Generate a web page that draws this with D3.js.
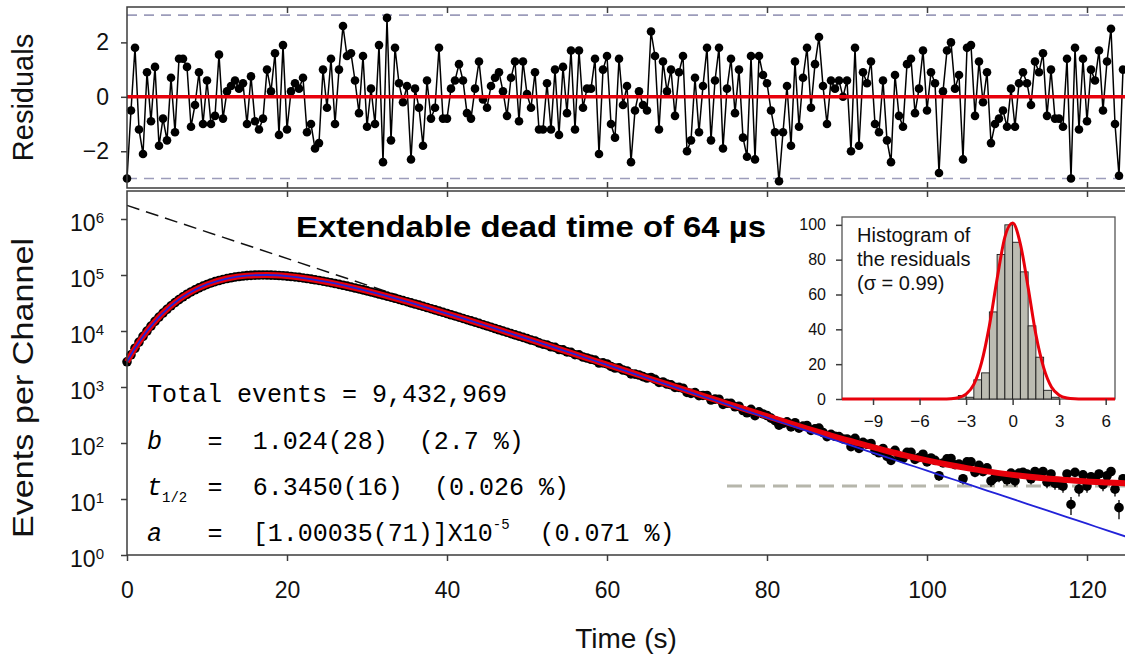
<!DOCTYPE html>
<meta charset='utf-8'>
<style>
	body { margin: 0; background: #fff; }
	svg { display: block; font-family: 'Liberation Sans', Arial, sans-serif; }
	.frame { stroke: #3c3c3c; stroke-width: 1.5; fill: none; }
	.axis line { stroke: #3c3c3c; stroke-width: 1.5; }
	.axis path { display: none; }
	.mono { font-family: 'Liberation Mono', 'Courier New', monospace; white-space: pre; }
</style>
<body>
	<div id='container'></div>
<script src='https://d3js.org/d3.v7.min.js'></script>
<script>
	// one plotted channel every half second
	const channelWidth = 0.5;

	const residuals = [
		-3.0, -0.5, 1.8, -1.2, -2.1, 0.9, -0.9, 1.1, -1.8, -0.8,
		-1.6, 0.7, -1.3, 1.4, 1.4, 1.1, -1.1, -0.3, 0.9, -1.0,
		0.6, -1.0, -0.7, 1.55, -0.8, 0.2, 0.4, 0.6, 0.3, 0.5,
		-1.0, 0.75, -0.9, -1.2, -0.8, 1.0, 0.2, 1.6, -1.4, 1.9,
		-1.2, 0.2, 0.5, 0.3, 0.7, -1.3, -1.0, -1.9, -1.7, 1.0,
		-0.4, 1.4, -1.0, 1.0, 2.6, 1.5, 1.6, 0.6, -0.6, 1.5,
		-1.1, 0.3, -1.0, 1.9, -2.4, 2.9, -1.6, 1.8, 0.5, -0.2,
		0.4, -2.3, 0.3, -0.4, -1.8, 0.6, -0.8, -0.4, 1.8, -0.8,
		-0.8, 0.3, 0.6, 1.2, 0.6, -0.6, -0.8, 0.3, 1.3, -0.1,
		-0.4, 0.4, 0.7, 0.9, 0.2, -0.7, 0.7, 1.3, -0.9, 1.3,
		0.1, -0.4, 0.9, -1.2, -1.2, 0.5, -1.2, 1.0, -1.4, 1.1,
		-0.6, 1.7, -1.2, 1.7, -0.4, 0.3, 0.3, 1.4, -2.1, 1.0,
		1.5, -1.0, -1.5, 1.4, -0.3, 0.4, -2.4, -0.5, 0.2, -0.3,
		-0.5, 2.4, 1.5, -1.2, 1.3, 0.2, 1.0, -0.7, 0.9, 1.5,
		-2.0, -1.6, 0.7, -1.3, 0.4, 1.8, -1.6, 0.6, 1.8, -1.9,
		0.3, 1.4, -0.6, 1.0, -1.5, -2.2, 1.5, -2.3, 1.5, 0.8,
		0.5, -0.5, -1.3, -3.1, -1.3, 0.4, -1.8, 1.3, -1.1, 0.7,
		1.8, -0.4, 1.2, 2.2, 0.4, -1.0, 0.6, 0.3, 0.6, 0.0,
		0.6, -2.0, 1.8, -1.8, 0.9, 0.5, 1.3, -1.0, -1.3, 0.6,
		-1.6, -2.4, 0.8, -0.7, -1.1, 1.2, 1.4, -0.6, 0.3, 1.7,
		-0.5, 0.9, 0.5, -2.8, 0.2, 1.7, 2.0, 0.3, 0.8, -2.3,
		1.8, 1.9, -0.7, 1.3, -0.2, 0.9, -1.7, -1.0, -0.8, -0.5,
		-1.1, 0.3, -1.1, 0.5, 0.9, 0.5, -0.3, 1.3, 0.9, 1.6,
		-0.7, 1.0, -0.8, -0.8, -1.1, 1.4, -3.0, 1.8, -1.2, 1.4,
		-0.9, 1.0, 0.6, 1.7, -0.5, 1.3, 2.5, -1.0, -2.9, 1.0
	];

	const counts = [
		2820, 3760, 4920, 6330, 8010, 9970, 12250, 14840, 17720, 20930,
		24430, 28200, 32190, 36390, 40740, 45290, 49830, 54430, 58960, 63530,
		67860, 72080, 76050, 79790, 83260, 86460, 89320, 91850, 94060, 95870,
		97480, 98590, 99440, 99970, 100170, 100000, 99600, 98960, 98030, 96910,
		95580, 94050, 92340, 90520, 88570, 86530, 84370, 82130, 79850, 77490,
		75160, 72780, 70390, 68000, 65620, 63260, 60940, 58630, 56370, 54160,
		51990, 49860, 47790, 45790, 43840, 41940, 40110, 38340, 36630, 34970,
		33370, 31840, 30360, 28950, 27590, 26280, 25020, 23820, 22670, 21570,
		20530, 19520, 18550, 17650, 16760, 15930, 15140, 14380, 13660, 12970,
		12310, 11690, 11090, 10530, 9990, 9480, 8990, 8530, 8090, 7680,
		7304, 6886, 6635, 6129, 5808, 5632, 5217, 5100, 4670, 4595,
		4246, 4169, 3777, 3753, 3435, 3295, 3124, 3020, 2679, 2695,
		2582, 2327, 2181, 2199, 2008, 1934, 1713, 1699, 1638, 1533,
		1445, 1479, 1371, 1205, 1228, 1128, 1096, 985, 983, 950,
		799, 770, 793, 699, 707, 706, 585, 608, 606, 490,
		513, 511, 443, 453, 380, 346, 399, 308, 360, 330,
		310, 278, 250, 208, 225, 239, 194, 230, 184, 201,
		205, 168, 179, 185, 154, 130, 143, 132, 130, 118,
		118, 86, 121, 80, 103, 95, 98, 73, 67, 80,
		58, 49, 74, 58, 53, 68, 68, 51, 55, 63,
		46, 54, 49, 26, 44, 52, 53, 41, 42, 23,
		46, 46, 30, 40, 31, 36, 21, 24, 25, 26,
		22, 29, 21, 29, 30, 28, 23, 31, 28, 31,
		20, 28, 19, 19, 17, 28, 8, 30, 15, 27,
		17, 25, 23, 28, 18, 26, 31, 15, 7, 23
	];

	// fitted curve (red) and the same without background (blue)
	const fitTimes = [0, 1, 2, 3, 4, 5, 6, 7, 8, 9, 10, 12.5, 15, 17.5, 20, 22.5, 25, 27.5, 30, 32.5,
		35, 37.5, 40, 42.5, 45, 47.5, 50, 52.5, 55, 57.5, 60, 62.5, 65, 67.5, 70, 72.5, 75, 77.5, 80,
		82.5, 85, 87.5, 90, 92.5, 95, 97.5, 100, 102.5, 105, 107.5, 110, 112.5, 115, 117.5, 120, 122.5, 125];
	const fitCounts = [2820, 4920, 8010, 12250, 17720, 24430, 32190, 40740, 49830, 58960, 67860,
		86460, 97480, 100000, 95580, 86530, 75160, 63260, 51990, 41940, 33370, 26280, 20530, 15930,
		12310, 9480, 7295, 5595, 4285, 3278, 2507, 1916, 1464, 1121, 858, 660, 506, 389, 301, 233,
		181, 142, 112, 90, 72, 59, 49, 41.4, 35.6, 31.1, 27.8, 25.2, 23.2, 21.8, 20.6, 19.8, 19.1];
	const decayCounts = [2800, 4900, 7990, 12230, 17700, 24410, 32170, 40720, 49810, 58940, 67840,
		86440, 97460, 99980, 95560, 86510, 75140, 63240, 51970, 41920, 33350, 26260, 20510, 15910,
		12290, 9460, 7278, 5578, 4268, 3261, 2490, 1899, 1447, 1104, 841, 643, 489, 372, 284, 216,
		164, 125, 95.4, 72.6, 55.3, 42.1, 32.1, 24.4, 18.6, 14.1, 10.8, 8.2, 6.24, 4.75, 3.62, 2.75, 2.10];

	// undisturbed decay, extrapolated to t = 0
	const asymptoteTimes = [0, 34];
	const asymptoteCounts = [1.75e6, 42700];

	const backgroundLevel = 17;
	const backgroundSpan = [75, 125];
	const residualLimits = [-3, 3];

	// histogram of residuals
	const binStarts = [-3.5, -3, -2.5, -2, -1.5, -1, -0.5, 0, 0.5, 1, 1.5, 2, 2.5];
	const binWidth = 0.5;
	const binCounts = [2, 1, 11, 15, 50, 83, 100, 90, 73, 42, 24, 5, 1];
	const gaussX = [-11, -4.5, -4, -3.5, -3, -2.5, -2, -1.5, -1, -0.5, 0, 0.5, 1, 1.5, 2, 2.5, 3, 3.5, 4, 4.5, 6.6];
	const gaussY = [0, 0, 0.16, 0.74, 2.8, 8.4, 21, 42, 69, 93, 101, 89, 64, 37, 18, 6.9, 2.2, 0.55, 0.1, 0, 0];
	const histNote = ['Histogram of', 'the residuals', '(σ = 0.99)'];

	const timeTicks = [0, 20, 40, 60, 80, 100, 120];
	const residualTicks = [-2, 0, 2];
	const decadeTicks = [0, 1, 2, 3, 4, 5, 6];
	const histXTicks = [-9, -6, -3, 0, 3, 6];
	const histYTicks = [0, 20, 40, 60, 80, 100];

	const title = 'Extendable dead time of 64 µs';
	const totalLine = 'Total events = 9,432,969';
	const fitParams = [
		{ name: 'b', sub: '', value: '1.024(28)', sup: '', rel: '(2.7 %)' },
		{ name: 't', sub: '1/2', value: '6.3450(16)', sup: '', rel: '(0.026 %)' },
		{ name: 'a', sub: '', value: '[1.00035(71)]X10', sup: '-5', rel: '(0.071 %)' },
	];

	const W = 1125, H = 660;
	const plotLeft = 127, plotRight = 1127,
		resTop = 7, resBottom = 188,
		mainTop = 191, mainBottom = 555;

	const svg = d3.select( '#container' )
		.append( 'svg' )
		.attr( 'width', W )
		.attr( 'height', H );

	const x = d3.scaleLinear().domain( [0, 125] ).range( [plotLeft, plotRight] );
	const yRes = d3.scaleLinear().domain( [-3.35, 3.3] ).range( [resBottom, resTop] );
	const yMain = d3.scaleLog().domain( [1, Math.pow( 10, 6.5 )] ).range( [mainBottom, mainTop] );

	const channelTimes = residuals.map( ( r, i ) => i * channelWidth );

	// ---------- residual panel ----------
	const res = svg.append( 'g' );

	res.selectAll( '.limit' )
		.data( residualLimits )
		.enter().append( 'line' )
			.attr( 'x1', plotLeft ).attr( 'x2', W )
			.attr( 'y1', d => yRes( d ) ).attr( 'y2', d => yRes( d ) )
			.attr( 'stroke', '#9c9cba' )
			.attr( 'stroke-width', 1.6 )
			.attr( 'stroke-dasharray', '10,7' );

	res.append( 'path' )
		.datum( residuals )
		.attr( 'fill', 'none' )
		.attr( 'stroke', '#000' )
		.attr( 'stroke-width', 1.5 )
		.attr( 'd', d3.line().x( ( d, i ) => x( channelTimes[i] ) ).y( d => yRes( d ) ) );

	res.selectAll( 'circle' )
		.data( residuals )
		.enter().append( 'circle' )
			.attr( 'cx', ( d, i ) => x( channelTimes[i] ) )
			.attr( 'cy', d => yRes( d ) )
			.attr( 'r', 4.3 )
			.attr( 'fill', '#000' );

	res.append( 'line' )
		.attr( 'x1', plotLeft ).attr( 'x2', W )
		.attr( 'y1', yRes( 0 ) ).attr( 'y2', yRes( 0 ) )
		.attr( 'stroke', '#e8000b' )
		.attr( 'stroke-width', 3.5 );

	res.append( 'path' )
		.attr( 'class', 'frame' )
		.attr( 'd', `M${W},${resTop}H${plotLeft}V${resBottom}H${W}` );

	res.append( 'g' )
		.attr( 'class', 'axis' )
		.attr( 'transform', `translate( ${plotLeft}, 0 )` )
		.call( d3.axisLeft( yRes ).tickValues( residualTicks ).tickSize( 6 ).tickPadding( 12 ).tickFormat( d3.format( 'd' ) ) )
		.selectAll( 'text' )
			.attr( 'font-size', 23 ).attr( 'fill', '#111' )
			.attr( 'font-family', 'Liberation Sans, Arial, sans-serif' );

	res.append( 'g' )
		.attr( 'class', 'axis' )
		.attr( 'transform', `translate( 0, ${resTop} )` )
		.call( d3.axisTop( x ).tickValues( timeTicks.slice( 1 ) ).tickSize( -6 ).tickFormat( '' ) );

	res.append( 'g' )
		.attr( 'class', 'axis' )
		.attr( 'transform', `translate( 0, ${resBottom} )` )
		.call( d3.axisBottom( x ).tickValues( timeTicks.slice( 1 ) ).tickSize( -6 ).tickFormat( '' ) );

	svg.append( 'text' )
		.attr( 'transform', `translate( 33, ${( resTop + resBottom ) / 2} ) rotate( -90 )` )
		.attr( 'text-anchor', 'middle' )
		.attr( 'font-size', 29 )
		.attr( 'fill', '#111' )
		.text( 'Residuals' );

	// ---------- main panel ----------
	const main = svg.append( 'g' );

	main.append( 'line' )
		.attr( 'x1', x( backgroundSpan[0] ) ).attr( 'x2', x( backgroundSpan[1] ) )
		.attr( 'y1', yMain( backgroundLevel ) ).attr( 'y2', yMain( backgroundLevel ) )
		.attr( 'stroke', '#b6b6ab' )
		.attr( 'stroke-width', 3 )
		.attr( 'stroke-dasharray', '15,8' );

	main.append( 'path' )
		.datum( asymptoteTimes )
		.attr( 'fill', 'none' )
		.attr( 'stroke', '#111' )
		.attr( 'stroke-width', 1.5 )
		.attr( 'stroke-dasharray', '13,7' )
		.attr( 'd', d3.line().x( d => x( d ) ).y( ( d, i ) => yMain( asymptoteCounts[i] ) ) );

	main.selectAll( '.err' )
		.data( counts )
		.enter().append( 'line' )
			.attr( 'x1', ( d, i ) => x( channelTimes[i] ) )
			.attr( 'x2', ( d, i ) => x( channelTimes[i] ) )
			.attr( 'y1', d => yMain( Math.max( 1, d - Math.sqrt( d ) ) ) )
			.attr( 'y2', d => yMain( d + Math.sqrt( d ) ) )
			.attr( 'stroke', '#000' )
			.attr( 'stroke-width', 1.3 );

	main.selectAll( '.pt' )
		.data( counts )
		.enter().append( 'circle' )
			.attr( 'cx', ( d, i ) => x( channelTimes[i] ) )
			.attr( 'cy', d => yMain( d ) )
			.attr( 'r', 4.8 )
			.attr( 'fill', '#000' );

	main.append( 'path' )
		.datum( fitCounts )
		.attr( 'fill', 'none' )
		.attr( 'stroke', '#e8000b' )
		.attr( 'stroke-width', 6 )
		.attr( 'd', d3.line().curve( d3.curveMonotoneX ).x( ( d, i ) => x( fitTimes[i] ) ).y( d => yMain( d ) ) );

	main.append( 'path' )
		.datum( decayCounts )
		.attr( 'fill', 'none' )
		.attr( 'stroke', '#2222d8' )
		.attr( 'stroke-width', 1.8 )
		.attr( 'd', d3.line().curve( d3.curveMonotoneX ).x( ( d, i ) => x( fitTimes[i] ) ).y( d => yMain( d ) ) );

	main.append( 'path' )
		.attr( 'class', 'frame' )
		.attr( 'd', `M${W},${mainTop}H${plotLeft}V${mainBottom}H${W}` )
		.attr( 'stroke-width', 1.8 );

	main.append( 'g' )
		.attr( 'class', 'axis' )
		.attr( 'transform', `translate( 0, ${mainTop} )` )
		.call( d3.axisTop( x ).tickValues( timeTicks.slice( 1 ) ).tickSize( -6 ).tickFormat( '' ) );

	main.append( 'g' )
		.attr( 'class', 'axis' )
		.attr( 'transform', `translate( 0, ${mainBottom} )` )
		.call( d3.axisBottom( x ).tickValues( timeTicks ).tickSize( 6 ).tickPadding( 21 ) )
		.selectAll( 'text' )
			.attr( 'font-size', 23 ).attr( 'fill', '#111' )
			.attr( 'font-family', 'Liberation Sans, Arial, sans-serif' );

	const yAxisEl = main.append( 'g' )
		.attr( 'class', 'axis' )
		.attr( 'transform', `translate( ${plotLeft}, 0 )` )
		.call( d3.axisLeft( yMain ).tickValues( decadeTicks.map( d => Math.pow( 10, d ) ) ).tickSize( 6 ).tickFormat( '' ) );

	const decadeLabel = yAxisEl.selectAll( '.tick' )
		.append( 'text' )
			.attr( 'x', -23 )
			.attr( 'y', 11 )
			.attr( 'text-anchor', 'end' )
			.attr( 'fill', '#111' )
			.attr( 'font-size', 23 )
			.attr( 'font-family', 'Liberation Sans, Arial, sans-serif' );
	decadeLabel.append( 'tspan' ).text( '10' );
	decadeLabel.append( 'tspan' )
		.attr( 'dy', -8 )
		.attr( 'font-size', 15 )
		.text( ( d ) => Math.round( Math.log10( d ) ) );

	svg.append( 'text' )
		.attr( 'transform', `translate( 33, 388 ) rotate( -90 )` )
		.attr( 'text-anchor', 'middle' )
		.attr( 'font-size', 30 )
		.attr( 'textLength', 300 )
		.attr( 'lengthAdjust', 'spacingAndGlyphs' )
		.attr( 'fill', '#111' )
		.text( 'Events per Channel' );

	svg.append( 'text' )
		.attr( 'x', ( plotLeft + W ) / 2 )
		.attr( 'y', 648 )
		.attr( 'text-anchor', 'middle' )
		.attr( 'font-size', 28 )
		.attr( 'fill', '#111' )
		.text( 'Time (s)' );

	svg.append( 'text' )
		.attr( 'x', 296 )
		.attr( 'y', 237 )
		.attr( 'font-size', 30 )
		.attr( 'font-weight', 'bold' )
		.attr( 'textLength', 470 )
		.attr( 'lengthAdjust', 'spacingAndGlyphs' )
		.attr( 'fill', '#000' )
		.text( title );

	// fit summary in monospace columns
	const monoSize = 25, col = 15.1, textX = 147;
	const rowY = [402, 449, 495, 541];
	const notes = svg.append( 'g' ).attr( 'class', 'mono' ).attr( 'font-size', monoSize ).attr( 'fill', '#000' );

	notes.append( 'text' ).attr( 'x', textX ).attr( 'y', rowY[0] ).text( totalLine );

	fitParams.forEach( ( p, i ) => {
		const y = rowY[i + 1];
		const name = notes.append( 'text' ).attr( 'x', textX ).attr( 'y', y );
		name.append( 'tspan' ).attr( 'font-style', 'italic' ).text( p.name );
		if ( p.sub ) name.append( 'tspan' ).attr( 'font-size', 14 ).attr( 'dy', 7 ).text( p.sub );

		notes.append( 'text' ).attr( 'x', textX + 4 * col ).attr( 'y', y ).text( '=' );

		const val = notes.append( 'text' ).attr( 'x', textX + 7 * col ).attr( 'y', y );
		val.append( 'tspan' ).text( p.value );
		if ( p.sup ) val.append( 'tspan' ).attr( 'font-size', 14 ).attr( 'dy', -12 ).text( p.sup );

		const relCol = 7 + p.value.length + 2 + ( p.sup ? 1 : 0 );
		notes.append( 'text' ).attr( 'x', textX + relCol * col ).attr( 'y', y ).text( p.rel );
	} );

	// ---------- inset histogram ----------
	const hx = d3.scaleLinear().domain( [-11, 6.6] ).range( [842, 1115] );
	const hy = d3.scaleLinear().domain( [0, 104.5] ).range( [399, 217] );
	const inset = svg.append( 'g' );

	inset.append( 'rect' )
		.attr( 'x', hx.range()[0] ).attr( 'y', hy.range()[1] )
		.attr( 'width', hx.range()[1] - hx.range()[0] )
		.attr( 'height', hy.range()[0] - hy.range()[1] )
		.attr( 'fill', '#fff' )
		.attr( 'stroke', '#555' )
		.attr( 'stroke-width', 1.3 );

	inset.selectAll( '.bar' )
		.data( binCounts )
		.enter().append( 'rect' )
			.attr( 'x', ( d, i ) => hx( binStarts[i] ) )
			.attr( 'y', d => hy( d ) )
			.attr( 'width', ( d, i ) => hx( binStarts[i] + binWidth ) - hx( binStarts[i] ) )
			.attr( 'height', d => hy( 0 ) - hy( d ) )
			.attr( 'fill', '#bcbcb2' )
			.attr( 'stroke', '#1a1a1a' )
			.attr( 'stroke-width', 0.9 );

	inset.append( 'path' )
		.datum( gaussY )
		.attr( 'fill', 'none' )
		.attr( 'stroke', '#e8000b' )
		.attr( 'stroke-width', 3 )
		.attr( 'd', d3.line().curve( d3.curveMonotoneX ).x( ( d, i ) => hx( gaussX[i] ) ).y( d => hy( d ) ) );

	inset.append( 'g' )
		.attr( 'class', 'axis' )
		.attr( 'transform', `translate( ${hx.range()[0]}, 0 )` )
		.call( d3.axisLeft( hy ).tickValues( histYTicks ).tickSize( 6 ).tickPadding( 10 ) )
		.selectAll( 'text' )
			.attr( 'font-size', 16 ).attr( 'fill', '#111' )
			.attr( 'font-family', 'Liberation Sans, Arial, sans-serif' );

	inset.append( 'g' )
		.attr( 'class', 'axis' )
		.attr( 'transform', `translate( 0, ${hy.range()[0]} )` )
		.call( d3.axisBottom( hx ).tickValues( histXTicks ).tickSize( 6 ).tickPadding( 10 ) )
		.selectAll( 'text' )
			.attr( 'font-size', 17 ).attr( 'fill', '#111' )
			.attr( 'font-family', 'Liberation Sans, Arial, sans-serif' );

	inset.append( 'g' )
		.selectAll( 'text' )
		.data( histNote )
		.enter().append( 'text' )
			.attr( 'x', 857 )
			.attr( 'y', ( d, i ) => 242 + i * 24 )
			.attr( 'font-size', 20 )
			.attr( 'fill', '#111' )
			.text( d => d );
</script>
</body>
